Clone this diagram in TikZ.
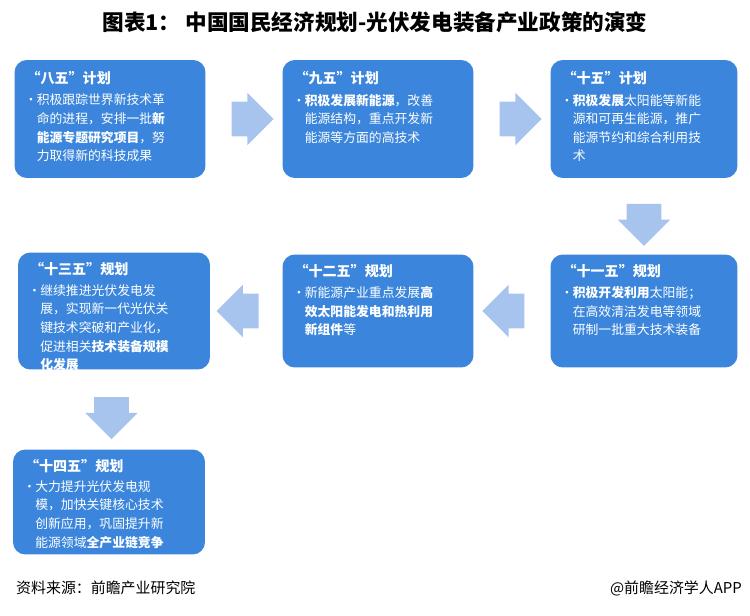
\documentclass[tikz,border=0pt]{standalone}
\usepackage{fontspec}
\setmainfont{Noto Sans CJK SC}
\usetikzlibrary{calc,positioning,shapes.arrows}
\definecolor{boxblue}{HTML}{3B86DC}
\definecolor{arrblue}{HTML}{A6C4EE}
\newcommand{\bl}{\makebox[7pt][l]{•}}
\newcommand{\ind}{\hspace*{7pt}}
\begin{document}
\begin{tikzpicture}[x=0.02cm, y=-0.02cm]
\tikzstyle{box}=[fill=boxblue, rounded corners=7pt, inner sep=0pt]
\tikzstyle{hd}=[anchor=north west, text=white, font=\fontsize{8}{10}\selectfont\bfseries, inner sep=0pt]
\tikzstyle{bd}=[anchor=north west, text=white, align=left, font=\fontsize{7.3}{10.6}\selectfont, inner sep=0pt]
\tikzstyle{arr}=[single arrow, fill=arrblue, inner xsep=0pt, inner ysep=0.34cm, minimum height=0.84cm, single arrow head extend=0.18cm]
\useasboundingbox (0,0) rectangle (750,615);
\node[font=\fontsize{12.3}{14}\selectfont\bfseries] (title) at (375,22) {图表1：\ 中国国民经济规划-光伏发电装备产业政策的演变};
% boxes
\node[box, minimum width=3.82cm, minimum height=2.36cm] (b1) at (110,119) {};
\node[box, minimum width=3.82cm, minimum height=2.36cm] (b2) at (378,119) {};
\node[box, minimum width=3.74cm, minimum height=2.36cm] (b3) at (644,119) {};
\node[box, minimum width=3.74cm, minimum height=2.26cm] (b6) at (644,311) {};
\node[box, minimum width=3.82cm, minimum height=2.26cm] (b5) at (378,311) {};
\node[box, minimum width=3.84cm, minimum height=2.34cm] (b4) at (114,311) {};
\node[box, minimum width=3.84cm, minimum height=2.10cm] (b7) at (109,502) {};
% texts
\node[hd] (h1) at ($(b1.north west)+(12,11)$) {“八五”计划};
\node[bd] at ($(b1.north west)+(10,34)$) {\bl 积极跟踪世界新技术革\\\ind 命的进程，安排一批\textbf{新}\\\ind \textbf{能源专题研究项目}，努\\\ind 力取得新的科技成果};
\node[hd] (h2) at ($(b2.north west)+(12,11)$) {“九五”计划};
\node[bd] at ($(b2.north west)+(10,34)$) {\bl \textbf{积极发展新能源}，改善\\\ind 能源结构，重点开发新\\\ind 能源等方面的高技术};
\node[hd] (h3) at ($(b3.north west)+(12,11)$) {“十五”计划};
\node[bd] at ($(b3.north west)+(10,34)$) {\bl \textbf{积极发展}太阳能等新能\\\ind 源和可再生能源，推广\\\ind 能源节约和综合利用技\\\ind 术};
\node[hd] (h6) at ($(b6.north west)+(12,10)$) {“十一五”规划};
\node[bd] at ($(b6.north west)+(10,32)$) {\bl \textbf{积极开发利用}太阳能；\\\ind 在高效清洁发电等领域\\\ind 研制一批重大技术装备};
\node[hd] (h5) at ($(b5.north west)+(12,10)$) {“十二五”规划};
\node[bd] at ($(b5.north west)+(10,32)$) {\bl 新能源产业重点发展\textbf{高}\\\ind \textbf{效太阳能发电和热利用}\\\ind \textbf{新组件}等};
\node[hd] (h4) at ($(b4.north west)+(12,10)$) {“十三五”规划};
\node[bd] at ($(b4.north west)+(10,32)$) {\bl 继续推进光伏发电发\\\ind 展，实现新一代光伏关\\\ind 键技术突破和产业化，\\\ind 促进相关\textbf{技术装备规模}\\\ind \textbf{化发展}};
\node[hd] (h7) at ($(b7.north west)+(12,10)$) {“十四五”规划};
\node[bd] at ($(b7.north west)+(10,31)$) {\bl 大力提升光伏发电规\\\ind 模，加快关键核心技术\\\ind 创新应用，巩固提升新\\\ind 能源领域\textbf{全产业链竞争}};
% arrows
\node[arr] (a12) at ($(b1.east)!0.5!(b2.west)$) {};
\node[arr] (a23) at ($(b2.east)!0.5!(b3.west)$) {};
\node[arr, rotate=-90] (a36) at ($(b3.south)!0.5!(b6.north)$) {};
\node[arr, rotate=180] (a65) at ($(b6.west)!0.5!(b5.east)$) {};
\node[arr, rotate=180] (a54) at ($(b5.west)!0.5!(b4.east)$) {};
\node[arr, rotate=-90] (a47) at ($(b4.south)!0.5!(b7.north)$) {};
% footer
\node[anchor=west, font=\fontsize{8.5}{10}\selectfont] (src) at (10,588) {资料来源：前瞻产业研究院};
\node[anchor=east, font=\fontsize{8.5}{10}\selectfont] (app) at (748,588) {@前瞻经济学人APP};
\end{tikzpicture}
\end{document}
